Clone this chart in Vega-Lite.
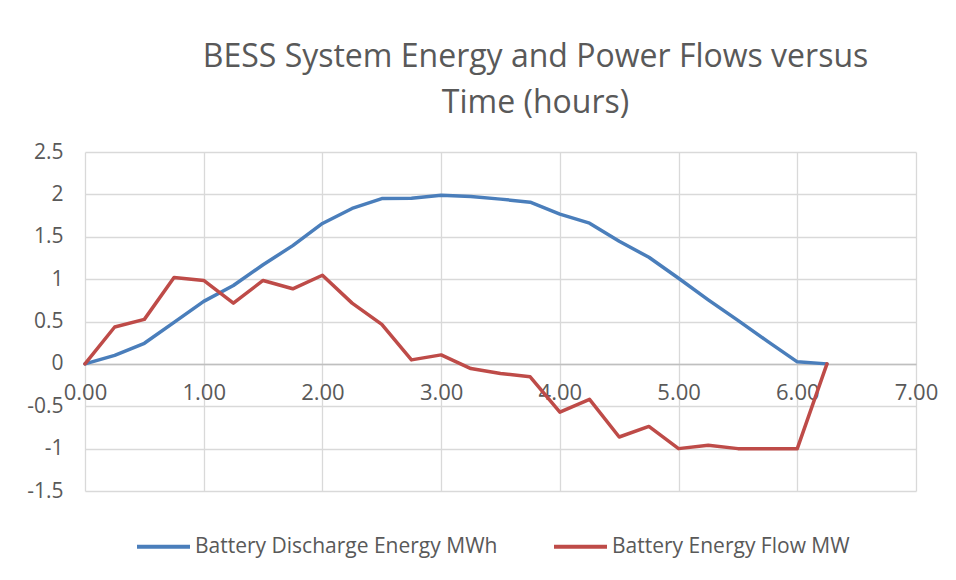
{
  "$schema": "https://vega.github.io/schema/vega-lite/v6.json",
  "autosize": {"type": "none"},
  "width": 831,
  "height": 339,
  "padding": {"left": 85, "top": 152, "right": 40, "bottom": 89},
  "background": "white",
  "config": {
    "view": {"stroke": null},
    "font": "Open Sans"
  },
  "title": {
    "text": ["BESS System Energy and Power Flows versus", "Time (hours)"],
    "anchor": "middle",
    "frame": "group",
    "dx": 35,
    "offset": 21,
    "fontSize": 32,
    "fontWeight": "normal",
    "color": "#595959",
    "lineHeight": 46,
    "font": "Open Sans"
  },
  "data": {
    "values": [
      {"hours": 0.0, "Battery Discharge Energy MWh": 0.0, "Battery Energy Flow MW": 0.0},
      {"hours": 0.25, "Battery Discharge Energy MWh": 0.10, "Battery Energy Flow MW": 0.435},
      {"hours": 0.5, "Battery Discharge Energy MWh": 0.243, "Battery Energy Flow MW": 0.525},
      {"hours": 0.75, "Battery Discharge Energy MWh": 0.49, "Battery Energy Flow MW": 1.019},
      {"hours": 1.0, "Battery Discharge Energy MWh": 0.737, "Battery Energy Flow MW": 0.984},
      {"hours": 1.25, "Battery Discharge Energy MWh": 0.925, "Battery Energy Flow MW": 0.717},
      {"hours": 1.5, "Battery Discharge Energy MWh": 1.17, "Battery Energy Flow MW": 0.984},
      {"hours": 1.75, "Battery Discharge Energy MWh": 1.395, "Battery Energy Flow MW": 0.886},
      {"hours": 2.0, "Battery Discharge Energy MWh": 1.657, "Battery Energy Flow MW": 1.046},
      {"hours": 2.25, "Battery Discharge Energy MWh": 1.834, "Battery Energy Flow MW": 0.717},
      {"hours": 2.5, "Battery Discharge Energy MWh": 1.95, "Battery Energy Flow MW": 0.466},
      {"hours": 2.75, "Battery Discharge Energy MWh": 1.955, "Battery Energy Flow MW": 0.047},
      {"hours": 3.0, "Battery Discharge Energy MWh": 1.99, "Battery Energy Flow MW": 0.106},
      {"hours": 3.25, "Battery Discharge Energy MWh": 1.975, "Battery Energy Flow MW": -0.055},
      {"hours": 3.5, "Battery Discharge Energy MWh": 1.944, "Battery Energy Flow MW": -0.113},
      {"hours": 3.75, "Battery Discharge Energy MWh": 1.908, "Battery Energy Flow MW": -0.152},
      {"hours": 4.0, "Battery Discharge Energy MWh": 1.767, "Battery Energy Flow MW": -0.57},
      {"hours": 4.25, "Battery Discharge Energy MWh": 1.66, "Battery Energy Flow MW": -0.418},
      {"hours": 4.5, "Battery Discharge Energy MWh": 1.446, "Battery Energy Flow MW": -0.863},
      {"hours": 4.75, "Battery Discharge Energy MWh": 1.258, "Battery Energy Flow MW": -0.738},
      {"hours": 5.0, "Battery Discharge Energy MWh": 1.01, "Battery Energy Flow MW": -1.0},
      {"hours": 5.25, "Battery Discharge Energy MWh": 0.756, "Battery Energy Flow MW": -0.96},
      {"hours": 5.5, "Battery Discharge Energy MWh": 0.513, "Battery Energy Flow MW": -1.0},
      {"hours": 5.75, "Battery Discharge Energy MWh": 0.266, "Battery Energy Flow MW": -1.0},
      {"hours": 6.0, "Battery Discharge Energy MWh": 0.024, "Battery Energy Flow MW": -1.0},
      {"hours": 6.25, "Battery Discharge Energy MWh": 0.0, "Battery Energy Flow MW": 0.0}
    ]
  },
  "transform": [
    {"fold": ["Battery Discharge Energy MWh", "Battery Energy Flow MW"], "as": ["series", "value"]}
  ],
  "mark": {"type": "line", "strokeWidth": 3.5, "strokeCap": "round", "strokeJoin": "round"},
  "encoding": {
    "x": {
      "field": "hours",
      "type": "quantitative",
      "scale": {"domain": [0, 7], "nice": false, "zero": false},
      "axis": {
        "title": null,
        "values": [0, 1, 2, 3, 4, 5, 6, 7],
        "format": ".2f",
        "offset": -127,
        "grid": true,
        "gridColor": "#d9d9d9",
        "gridWidth": 1.3,
        "domainColor": "#bfbfbf",
        "domainWidth": 1.3,
        "ticks": false,
        "labelFlush": false,
        "labelPadding": 18,
        "labelFontSize": 22,
        "labelColor": "#595959",
        "labelFont": "Open Sans"
      }
    },
    "y": {
      "field": "value",
      "type": "quantitative",
      "scale": {"domain": [-1.5, 2.5], "nice": false, "zero": false},
      "axis": {
        "title": null,
        "values": [-1.5, -1, -0.5, 0, 0.5, 1, 1.5, 2, 2.5],
        "labelExpr": "'' + datum.value",
        "grid": true,
        "gridColor": "#d9d9d9",
        "gridWidth": 1.3,
        "domain": false,
        "ticks": false,
        "labelPadding": 22,
        "labelFontSize": 21,
        "labelColor": "#595959",
        "labelFont": "Open Sans"
      }
    },
    "color": {
      "field": "series",
      "type": "nominal",
      "scale": {
        "domain": ["Battery Discharge Energy MWh", "Battery Energy Flow MW"],
        "range": ["#4a7ebb", "#be4b48"]
      },
      "legend": {
        "title": null,
        "orient": "none",
        "direction": "horizontal",
        "legendX": 50,
        "legendY": 366,
        "symbolType": "stroke",
        "symbolSize": 2809,
        "symbolStrokeWidth": 4,
        "labelFontSize": 21,
        "labelColor": "#595959",
        "labelFont": "Open Sans",
        "labelOffset": 3,
        "labelLimit": 500,
        "columnPadding": 48
      }
    }
  }
}
